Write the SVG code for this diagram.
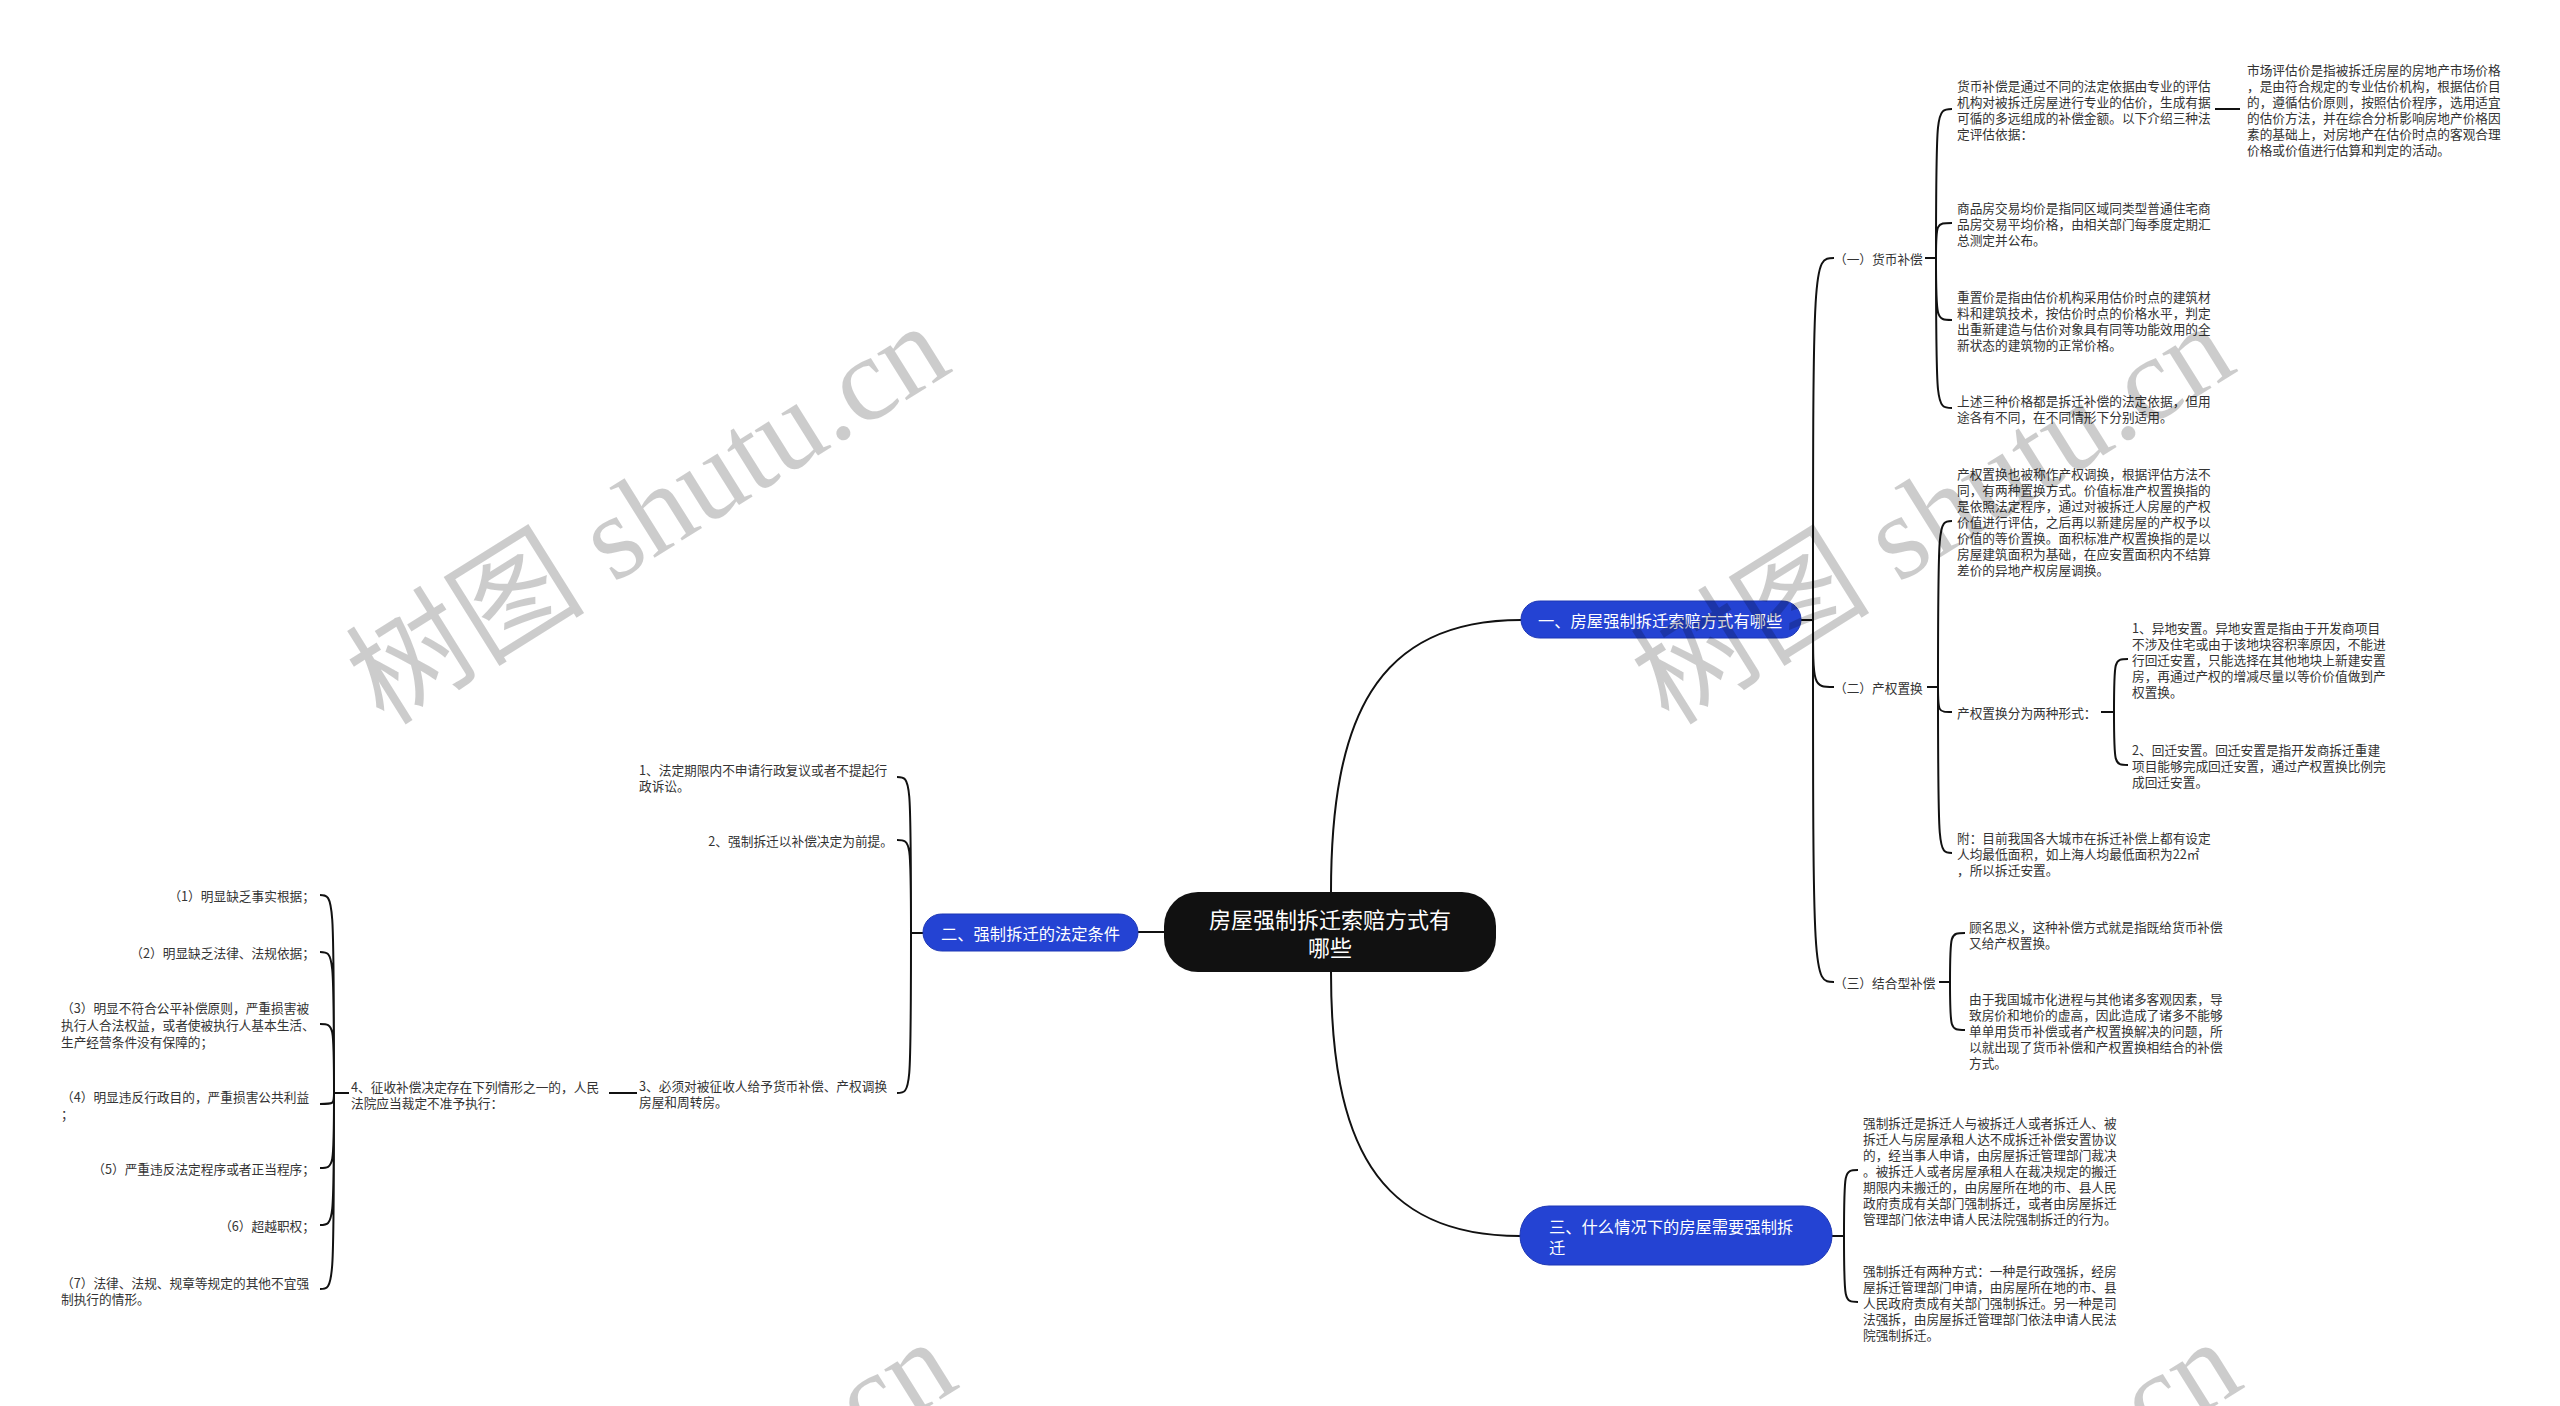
<svg xmlns="http://www.w3.org/2000/svg" width="2560" height="1406" viewBox="0 0 2560 1406">
<style>
.t{font-family:"Noto Sans CJK SC","Noto Sans",sans-serif;font-size:12.7px;fill:#333;dominant-baseline:central}
.e{text-anchor:end}
.n{font-family:"Noto Sans CJK SC","Noto Sans",sans-serif;font-size:16.3px;fill:#fff;dominant-baseline:central}
.c{font-family:"Noto Sans CJK SC","Noto Sans",sans-serif;font-size:22px;fill:#fff;dominant-baseline:central;text-anchor:middle}
.ln{fill:none;stroke:#111;stroke-width:2}
.blue{fill:#2443d3;stroke:#1d37b5;stroke-width:1}
.wm{font-family:"Liberation Serif","Noto Sans CJK SC",serif;font-size:120px;fill:#000;fill-opacity:0.2;text-anchor:middle;dominant-baseline:central}
</style>
<rect width="2560" height="1406" fill="#fff"/>
<g id="connectors">
<path class="ln" d="M1331 892 C1331 720 1375 620 1521 620"/>
<path class="ln" d="M1331 972 C1331 1140 1375 1236 1520 1236"/>
<path class="ln" d="M1164 932 H1138"/>
<path class="ln" d="M1801 620 H1813 M1813 620 C1813 258 1813 258 1834 258 M1813 620 C1813 687 1813 687 1834 687 M1813 620 C1813 982 1813 982 1834 982"/>
<path class="ln" d="M1925 258 H1936 M1936 258 C1936 109 1936 109 1952 109 M1936 258 C1936 223 1936 223 1952 223 M1936 258 C1936 320 1936 320 1952 320 M1936 258 C1936 408 1936 408 1952 408"/>
<path class="ln" d="M2215 109 H2240"/>
<path class="ln" d="M1927 687 H1938 M1938 687 C1938 521 1938 521 1952 521 M1938 687 C1938 712 1938 712 1952 712 M1938 687 C1938 853 1938 853 1952 853"/>
<path class="ln" d="M2101 712 H2114 M2114 712 C2114 659 2114 659 2128 659 M2114 712 C2114 765 2114 765 2128 765"/>
<path class="ln" d="M1939 982 H1950 M1950 982 C1950 933 1950 933 1965 933 M1950 982 C1950 1030 1950 1030 1965 1030"/>
<path class="ln" d="M1832 1236 H1844 M1844 1236 C1844 1170 1844 1170 1858 1170 M1844 1236 C1844 1302 1844 1302 1858 1302"/>
<path class="ln" d="M923 933 H911 M911 933 C911 777 911 777 897 777 M911 933 C911 840 911 840 897 840 M911 933 C911 1093 911 1093 897 1093"/>
<path class="ln" d="M637 1093 H609"/>
<path class="ln" d="M349 1093 H334 M334 1093 C334 895 334 895 320 895 M334 1093 C334 952 334 952 320 952 M334 1093 C334 1024 334 1024 320 1024 M334 1093 C334 1104 334 1104 320 1104 M334 1093 C334 1168 334 1168 320 1168 M334 1093 C334 1225 334 1225 320 1225 M334 1093 C334 1289 334 1289 320 1289"/>
</g>
<g id="root">
<rect x="1164" y="892" width="332" height="80" rx="34" fill="#111"/>
<text class="c"><tspan x="1330" y="918">房屋强制拆迁索赔方式有</tspan><tspan x="1330" y="946">哪些</tspan></text>
</g>
<g id="n1">
<rect class="blue" x="1521" y="601" width="280" height="37" rx="18.5"/>
<text class="n" x="1538" y="620">一、房屋强制拆迁索赔方式有哪些</text>
</g>
<g id="n2">
<rect class="blue" x="923" y="914" width="215" height="37" rx="18.5"/>
<text class="n" x="941" y="933">二、强制拆迁的法定条件</text>
</g>
<g id="n3">
<rect class="blue" x="1520" y="1206" width="312" height="59" rx="29"/>
<text class="n"><tspan x="1549" y="1226">三、什么情况下的房屋需要强制拆</tspan><tspan x="1549" y="1247">迁</tspan></text>
</g>
<g id="n1-1"><text class="t" x="1834" y="258">（一）货币补偿</text></g>
<g id="n1-2"><text class="t" x="1834" y="687">（二）产权置换</text></g>
<g id="n1-3"><text class="t" x="1834" y="982">（三）结合型补偿</text></g>
<g id="n1-1-a"><text class="t"><tspan x="1957" y="85">货币补偿是通过不同的法定依据由专业的评估</tspan><tspan x="1957" y="101">机构对被拆迁房屋进行专业的估价，生成有据</tspan><tspan x="1957" y="117">可循的多远组成的补偿金额。以下介绍三种法</tspan><tspan x="1957" y="133">定评估依据：</tspan></text></g>
<g id="n1-1-a-1"><text class="t"><tspan x="2247" y="69">市场评估价是指被拆迁房屋的房地产市场价格</tspan><tspan x="2247" y="85">，是由符合规定的专业估价机构，根据估价目</tspan><tspan x="2247" y="101">的，遵循估价原则，按照估价程序，选用适宜</tspan><tspan x="2247" y="117">的估价方法，并在综合分析影响房地产价格因</tspan><tspan x="2247" y="133">素的基础上，对房地产在估价时点的客观合理</tspan><tspan x="2247" y="149">价格或价值进行估算和判定的活动。</tspan></text></g>
<g id="n1-1-b"><text class="t"><tspan x="1957" y="207">商品房交易均价是指同区域同类型普通住宅商</tspan><tspan x="1957" y="223">品房交易平均价格，由相关部门每季度定期汇</tspan><tspan x="1957" y="239">总测定并公布。</tspan></text></g>
<g id="n1-1-c"><text class="t"><tspan x="1957" y="296">重置价是指由估价机构采用估价时点的建筑材</tspan><tspan x="1957" y="312">料和建筑技术，按估价时点的价格水平，判定</tspan><tspan x="1957" y="328">出重新建造与估价对象具有同等功能效用的全</tspan><tspan x="1957" y="344">新状态的建筑物的正常价格。</tspan></text></g>
<g id="n1-1-d"><text class="t"><tspan x="1957" y="400">上述三种价格都是拆迁补偿的法定依据，但用</tspan><tspan x="1957" y="416">途各有不同，在不同情形下分别适用。</tspan></text></g>
<g id="n1-2-a"><text class="t"><tspan x="1957" y="473">产权置换也被称作产权调换，根据评估方法不</tspan><tspan x="1957" y="489">同，有两种置换方式。价值标准产权置换指的</tspan><tspan x="1957" y="505">是依照法定程序，通过对被拆迁人房屋的产权</tspan><tspan x="1957" y="521">价值进行评估，之后再以新建房屋的产权予以</tspan><tspan x="1957" y="537">价值的等价置换。面积标准产权置换指的是以</tspan><tspan x="1957" y="553">房屋建筑面积为基础，在应安置面积内不结算</tspan><tspan x="1957" y="569">差价的异地产权房屋调换。</tspan></text></g>
<g id="n1-2-b"><text class="t" x="1957" y="712">产权置换分为两种形式：</text></g>
<g id="n1-2-b-1"><text class="t"><tspan x="2132" y="627">1、异地安置。异地安置是指由于开发商项目</tspan><tspan x="2132" y="643">不涉及住宅或由于该地块容积率原因，不能进</tspan><tspan x="2132" y="659">行回迁安置，只能选择在其他地块上新建安置</tspan><tspan x="2132" y="675">房，再通过产权的增减尽量以等价价值做到产</tspan><tspan x="2132" y="691">权置换。</tspan></text></g>
<g id="n1-2-b-2"><text class="t"><tspan x="2132" y="749">2、回迁安置。回迁安置是指开发商拆迁重建</tspan><tspan x="2132" y="765">项目能够完成回迁安置，通过产权置换比例完</tspan><tspan x="2132" y="781">成回迁安置。</tspan></text></g>
<g id="n1-2-c"><text class="t"><tspan x="1957" y="837">附：目前我国各大城市在拆迁补偿上都有设定</tspan><tspan x="1957" y="853">人均最低面积，如上海人均最低面积为22㎡</tspan><tspan x="1957" y="869">，所以拆迁安置。</tspan></text></g>
<g id="n1-3-a"><text class="t"><tspan x="1969" y="926">顾名思义，这种补偿方式就是指既给货币补偿</tspan><tspan x="1969" y="942">又给产权置换。</tspan></text></g>
<g id="n1-3-b"><text class="t"><tspan x="1969" y="998">由于我国城市化进程与其他诸多客观因素，导</tspan><tspan x="1969" y="1014">致房价和地价的虚高，因此造成了诸多不能够</tspan><tspan x="1969" y="1030">单单用货币补偿或者产权置换解决的问题，所</tspan><tspan x="1969" y="1046">以就出现了货币补偿和产权置换相结合的补偿</tspan><tspan x="1969" y="1062">方式。</tspan></text></g>
<g id="n3-1"><text class="t"><tspan x="1863" y="1122">强制拆迁是拆迁人与被拆迁人或者拆迁人、被</tspan><tspan x="1863" y="1138">拆迁人与房屋承租人达不成拆迁补偿安置协议</tspan><tspan x="1863" y="1154">的，经当事人申请，由房屋拆迁管理部门裁决</tspan><tspan x="1863" y="1170">。被拆迁人或者房屋承租人在裁决规定的搬迁</tspan><tspan x="1863" y="1186">期限内未搬迁的，由房屋所在地的市、县人民</tspan><tspan x="1863" y="1202">政府责成有关部门强制拆迁，或者由房屋拆迁</tspan><tspan x="1863" y="1218">管理部门依法申请人民法院强制拆迁的行为。</tspan></text></g>
<g id="n3-2"><text class="t"><tspan x="1863" y="1270">强制拆迁有两种方式：一种是行政强拆，经房</tspan><tspan x="1863" y="1286">屋拆迁管理部门申请，由房屋所在地的市、县</tspan><tspan x="1863" y="1302">人民政府责成有关部门强制拆迁。另一种是司</tspan><tspan x="1863" y="1318">法强拆，由房屋拆迁管理部门依法申请人民法</tspan><tspan x="1863" y="1334">院强制拆迁。</tspan></text></g>
<g id="n2-1"><text class="t"><tspan x="639" y="769">1、法定期限内不申请行政复议或者不提起行</tspan><tspan x="639" y="785">政诉讼。</tspan></text></g>
<g id="n2-2"><text class="t e" x="893" y="840">2、强制拆迁以补偿决定为前提。</text></g>
<g id="n2-3"><text class="t"><tspan x="639" y="1085">3、必须对被征收人给予货币补偿、产权调换</tspan><tspan x="639" y="1101">房屋和周转房。</tspan></text></g>
<g id="n2-3-1"><text class="t"><tspan x="351" y="1086">4、征收补偿决定存在下列情形之一的，人民</tspan><tspan x="351" y="1102">法院应当裁定不准予执行：</tspan></text></g>
<g id="n4-1"><text class="t e" x="315" y="895">（1）明显缺乏事实根据；</text></g>
<g id="n4-2"><text class="t e" x="315" y="952">（2）明显缺乏法律、法规依据；</text></g>
<g id="n4-3"><text class="t"><tspan x="61" y="1007">（3）明显不符合公平补偿原则，严重损害被</tspan><tspan x="61" y="1024">执行人合法权益，或者使被执行人基本生活、</tspan><tspan x="61" y="1041">生产经营条件没有保障的；</tspan></text></g>
<g id="n4-4"><text class="t"><tspan x="61" y="1096">（4）明显违反行政目的，严重损害公共利益</tspan><tspan x="61" y="1113">；</tspan></text></g>
<g id="n4-5"><text class="t e" x="315" y="1168">（5）严重违反法定程序或者正当程序；</text></g>
<g id="n4-6"><text class="t e" x="315" y="1225">（6）超越职权；</text></g>
<g id="n4-7"><text class="t"><tspan x="61" y="1282">（7）法律、法规、规章等规定的其他不宜强</tspan><tspan x="61" y="1298">制执行的情形。</tspan></text></g>
<g id="watermark">
<text class="wm" transform="translate(648 514) rotate(-32)">树图 shutu.cn</text>
<text class="wm" transform="translate(1933 514) rotate(-32)">树图 shutu.cn</text>
<text class="wm" transform="translate(655 1530) rotate(-32)">树图 shutu.cn</text>
<text class="wm" transform="translate(1940 1530) rotate(-32)">树图 shutu.cn</text>
</g>
</svg>
